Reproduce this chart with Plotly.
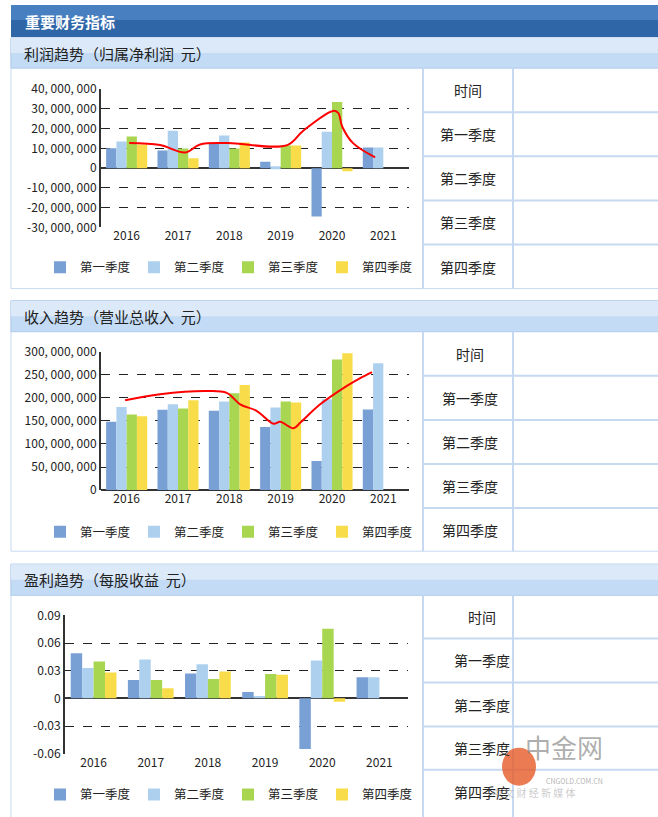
import plotly.graph_objects as go

years = ["2016", "2017", "2018", "2019", "2020", "2021"]
quarters = ["第一季度", "第二季度", "第三季度", "第四季度"]
colors = ["#78a0d4", "#aed0ef", "#a9d651", "#f8dc4a"]

profit_q1 = [10.1e6, 9.0e6, 12.7e6, 3.3e6, -24.5e6, 10.5e6]
profit_q2 = [13.5e6, 19.0e6, 16.5e6, 1.0e6, 18.5e6, 10.5e6]
profit_q3 = [16.0e6, 10.0e6, 10.0e6, 11.5e6, 33.5e6, None]
profit_q4 = [12.0e6, 5.0e6, 13.0e6, 11.5e6, -1.5e6, None]
profit_line_x = [0.05, 0.65, 1.14, 1.43, 1.96, 3.13, 3.44, 4.02, 4.12, 4.2, 4.41, 4.84]
profit_line_y = [12.7e6, 11.7e6, 8.0e6, 12.0e6, 12.7e6, 11.7e6, 19e6, 29e6, 28e6, 21e6, 12.7e6, 5.5e6]

rev_q1 = [148e6, 174e6, 172e6, 137e6, 63e6, 175e6]
rev_q2 = [180e6, 186e6, 192e6, 179e6, 197e6, 275e6]
rev_q3 = [164e6, 177e6, 210e6, 192e6, 283e6, None]
rev_q4 = [160e6, 195e6, 228e6, 190e6, 297e6, None]
rev_line_x = [-0.03, 0.65, 1.56, 1.95, 2.21, 2.53, 2.86, 2.99, 3.25, 3.38, 3.77, 4.29, 4.55, 4.78]
rev_line_y = [195e6, 208e6, 215e6, 211e6, 186e6, 172e6, 144e6, 148e6, 134e6, 146e6, 186e6, 226e6, 243e6, 256e6]

eps_q1 = [0.049, 0.020, 0.027, 0.007, -0.055, 0.023]
eps_q2 = [0.033, 0.042, 0.037, 0.0025, 0.041, 0.023]
eps_q3 = [0.040, 0.020, 0.021, 0.0265, 0.0756, None]
eps_q4 = [0.028, 0.011, 0.029, 0.0255, -0.0036, None]

profit_ticks = [40e6, 30e6, 20e6, 10e6, 0, -10e6, -20e6, -30e6]
rev_ticks = [300e6, 250e6, 200e6, 150e6, 100e6, 50e6, 0]
eps_ticks = [0.09, 0.06, 0.03, 0, -0.03, -0.06]

W, H = 658, 817
def py(p):
    p = (p - 10) / 0.977
    return 1 - p / H
def px(p):
    return p / W

FONT = "Noto Sans CJK SC"
fig = go.Figure()

def fmt_big(v):
    if v == 0:
        return "0"
    s = f"{abs(int(v)):,}".replace(",", ", ")
    return ("-" if v < 0 else "") + s

charts = [
    ("", [profit_q1, profit_q2, profit_q3, profit_q4], profit_line_x, profit_line_y, profit_ticks,
     [fmt_big(v) for v in profit_ticks], [-30e6, 40e6], [101, 409], [89, 227], "legend", 267),
    ("2", [rev_q1, rev_q2, rev_q3, rev_q4], rev_line_x, rev_line_y, rev_ticks,
     [fmt_big(v) for v in rev_ticks], [0, 300e6], [101, 409], [351, 489], "legend2", 531),
    ("3", [eps_q1, eps_q2, eps_q3, eps_q4], None, None, eps_ticks,
     ["0.09", "0.06", "0.03", "0", "-0.03", "-0.06"], [-0.06, 0.09], [65, 408], [614, 752], "legend3", 793),
]

for suf, series, lx, ly, ticks, ticktext, yr, xr, yrpx, leg, legy in charts:
    xa = "x" + suf
    ya = "y" + suf
    for i, s in enumerate(series):
        fig.add_trace(go.Bar(x=list(range(6)), y=s, name=quarters[i], marker_color=colors[i],
                             marker_line_width=0, xaxis=xa, yaxis=ya, legend=leg))
    if lx is not None:
        fig.add_trace(go.Scatter(x=lx, y=ly, mode="lines", line=dict(color="#ff0000", width=2, shape="spline"),
                                 showlegend=False, xaxis=xa, yaxis=ya))
    fig.update_layout(**{
        "xaxis" + suf: dict(domain=[px(xr[0]), px(xr[1])], range=[-0.5, 5.5], tickvals=list(range(6)),
                            ticktext=years, showgrid=False, zeroline=False, anchor=ya,
                            tickfont=dict(size=12, color="#222", family=FONT), ticks="", fixedrange=True,
                            showline=False),
        "yaxis" + suf: dict(domain=[py(yrpx[1]), py(yrpx[0])], range=yr, tickvals=ticks, ticktext=ticktext,
                            showgrid=True, gridcolor="#222", griddash="dash", gridwidth=1,
                            zeroline=True, zerolinecolor="#333", zerolinewidth=2,
                            showline=True, linecolor="#333", linewidth=2, anchor=xa,
                            tickfont=dict(size=12, color="#222", family=FONT)),
        leg: dict(orientation="h", x=px(40), y=py(legy), yanchor="middle", xanchor="left",
                  font=dict(size=12.5, family=FONT, color="#222"), entrywidth=49, entrywidthmode="pixels",
                  bgcolor="rgba(0,0,0,0)"),
    })

shapes = []
ann = []
shapes.append(dict(type="rect", xref="paper", yref="paper", x0=px(11), x1=1, y0=py(37), y1=py(5),
                   fillcolor="#2f66a8", line_width=0, layer="below"))
shapes.append(dict(type="rect", xref="paper", yref="paper", x0=px(11), x1=1, y0=py(20), y1=py(5),
                   fillcolor="#5a8fd0", line_width=0, layer="below", opacity=0.6))
ann.append(dict(text="<b>重要财务指标</b>", x=px(23), y=py(21), xref="paper", yref="paper", xanchor="left",
                yanchor="middle", showarrow=False, font=dict(size=15, color="white", family=FONT)))

sections = [
    ("利润趋势（归属净利润  元）", 38, 68, 288, [112, 156, 200, 244], 468),
    ("收入趋势（营业总收入  元）", 300, 331, 550, [375, 419, 463, 507], 470),
    ("盈利趋势（每股收益  元）", 563, 594, 830, [637, 681, 725, 768], 482),
]
for title, top, htop, bottom, rows, cx in sections:
    shapes.append(dict(type="rect", xref="paper", yref="paper", x0=px(11), x1=1.01, y0=py(bottom), y1=py(top),
                       fillcolor="white", line=dict(color="#c6d9f1", width=1), layer="below"))
    shapes.append(dict(type="rect", xref="paper", yref="paper", x0=px(11), x1=1.01, y0=py(htop), y1=py(top),
                       fillcolor="#c4dbf5", line=dict(color="#b0cbea", width=1), layer="below"))
    shapes.append(dict(type="rect", xref="paper", yref="paper", x0=px(11), x1=1.01, y0=py((top + htop) / 2), y1=py(top),
                       fillcolor="#dce9f9", line_width=0, layer="below"))
    ann.append(dict(text=title, x=px(22), y=py((top + htop) / 2), xref="paper", yref="paper", xanchor="left",
                    yanchor="middle", showarrow=False, font=dict(size=15, color="#222", family=FONT)))
    shapes.append(dict(type="line", xref="paper", yref="paper", x0=px(423), x1=px(423), y0=py(bottom), y1=py(htop),
                       line=dict(color="#c6d9f1", width=2)))
    shapes.append(dict(type="line", xref="paper", yref="paper", x0=px(513), x1=px(513), y0=py(bottom), y1=py(htop),
                       line=dict(color="#c6d9f1", width=2)))
    for r in rows:
        shapes.append(dict(type="line", xref="paper", yref="paper", x0=px(423), x1=1, y0=py(r), y1=py(r),
                           line=dict(color="#c6d9f1", width=2)))
    labels = ["时间"] + quarters
    edges = [htop] + rows + [bottom if bottom < 800 else rows[-1] + 44]
    for i, lab in enumerate(labels):
        ann.append(dict(text=lab, x=px(cx), y=py((edges[i] + edges[i + 1]) / 2), xref="paper", yref="paper",
                        xanchor="center", yanchor="middle", showarrow=False,
                        font=dict(size=14, color="#222", family=FONT)))

ann.append(dict(text="中金网", x=px(605), y=py(765), xref="paper", yref="paper", showarrow=False,
                font=dict(size=26, color="rgba(120,120,120,0.6)", family=FONT)))
ann.append(dict(text="CNGOLD.COM.CN", x=px(605), y=py(786), xref="paper", yref="paper", showarrow=False,
                font=dict(size=7, color="rgba(120,120,120,0.6)", family=FONT)))
ann.append(dict(text="中 文 财 经 新 媒 体", x=px(577), y=py(800), xref="paper", yref="paper", showarrow=False,
                font=dict(size=10, color="rgba(150,150,150,0.5)", family=FONT)))
shapes.append(dict(type="circle", xref="paper", yref="paper", x0=px(502), x1=px(536), y0=py(784), y1=py(746),
                   fillcolor="rgba(230,90,40,0.8)", line_width=0))

fig.update_layout(width=W, height=H, margin=dict(l=0, r=0, t=0, b=0), plot_bgcolor="rgba(0,0,0,0)",
                  paper_bgcolor="white", barmode="group", bargap=0.2, bargroupgap=0, shapes=shapes,
                  annotations=ann, font=dict(family=FONT))
fig.write_html("out.html", config={"displayModeBar": False})
with open("out.html", encoding="utf-8") as f:
    html = f.read()
html = html.replace("<body>", '<body style="margin:0;padding:0;overflow:hidden">', 1)
with open("out.html", "w", encoding="utf-8") as f:
    f.write(html)
